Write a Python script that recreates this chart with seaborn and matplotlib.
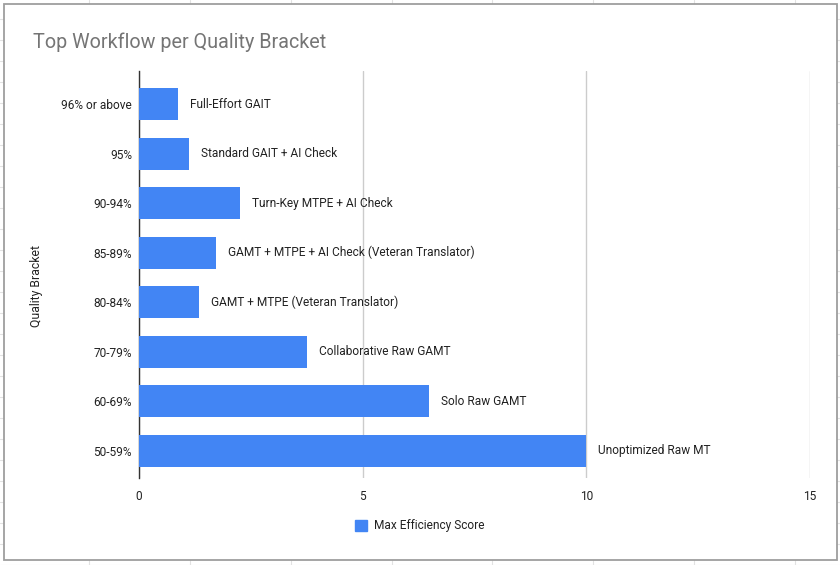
import pandas as pd
import seaborn as sns
import matplotlib.pyplot as plt
from matplotlib.patches import Rectangle
from matplotlib.lines import Line2D

# Data
brackets = ['96% or above', '95%', '90-94%', '85-89%', '80-84%', '70-79%', '60-69%', '50-59%']
scores = [0.87, 1.12, 2.26, 1.72, 1.34, 3.76, 6.49, 10.0]
workflows = ['Full-Effort GAIT', 'Standard GAIT + AI Check', 'Turn-Key MTPE + AI Check',
             'GAMT + MTPE + AI Check (Veteran Translator)', 'GAMT + MTPE (Veteran Translator)',
             'Collaborative Raw GAMT', 'Solo Raw GAMT', 'Unoptimized Raw MT']
x_ticks = [0, 5, 10, 15]

df = pd.DataFrame({'Quality Bracket': brackets, 'Max Efficiency Score': scores})

sns.set_style('white')
plt.rcParams['font.family'] = ['Roboto', 'DejaVu Sans']

W, H = 840, 565
fig = plt.figure(figsize=(W / 100, H / 100), dpi=100)

# spreadsheet grid behind the chart
for k in range(-2, 8):
    x = 190 + 100.8 * k
    fig.add_artist(Line2D([x / W, x / W], [0, 1], color='#e2e2e2', lw=0.8, zorder=0))
for k in range(-1, 28):
    y = 19 + 21 * k
    fig.add_artist(Line2D([0, 1], [1 - y / H, 1 - y / H], color='#e2e2e2', lw=0.8, zorder=0))
fig.add_artist(Rectangle((4 / W, 1 - 560 / H), 833 / W, 556 / H, facecolor='white',
                         edgecolor='#9e9e9e', lw=1.3, zorder=1))

ax = fig.add_axes([139 / W, 1 - 478 / H, 671 / W, 407 / H])
ax.set_zorder(2)
ax.patch.set_alpha(0)

sns.barplot(data=df, y='Quality Bracket', x='Max Efficiency Score', orient='h',
            color='#4285F4', saturation=1, width=0.64, linewidth=0, ax=ax, zorder=3)

for i, (v, t) in enumerate(zip(scores, workflows)):
    ax.annotate(t, (v, i), xytext=(12, 0), textcoords='offset pixels',
                va='center', ha='left', fontsize=8.6, color='#222222')

ax.set_xlim(0, 15)
ax.set_ylim(7.55, -0.67)
ax.set_xticks(x_ticks)
ax.xaxis.grid(True, color='#cccccc', lw=1)
ax.set_axisbelow(True)
for s in ['top', 'right', 'bottom']:
    ax.spines[s].set_visible(False)
ax.spines['left'].set_color('#333333')
ax.spines['left'].set_linewidth(1)
ax.tick_params(axis='both', length=0, labelsize=8.6, colors='#222222')
ax.tick_params(axis='y', pad=5)
ax.tick_params(axis='x', pad=9)
ax.set_xlabel('')
ax.set_ylabel('Quality Bracket', fontsize=8.8, color='#222222')
ax.yaxis.set_label_coords((43 - 139) / 671, (478 - 286) / 407)

fig.text(33 / W, 1 - 42 / H, 'Top Workflow per Quality Bracket', fontsize=14.2,
         color='#757575', va='center', ha='left')

leg = ax.legend(handles=[Rectangle((0, 0), 1, 1, color='#4285F4')], labels=['Max Efficiency Score'],
                loc='center', bbox_to_anchor=(420 / W, 1 - 526 / H), bbox_transform=fig.transFigure,
                frameon=False, fontsize=8.6, handlelength=0.95, handleheight=0.95, handletextpad=0.6)
for t in leg.get_texts():
    t.set_color('#222222')

fig.savefig('out.png', dpi=100)
